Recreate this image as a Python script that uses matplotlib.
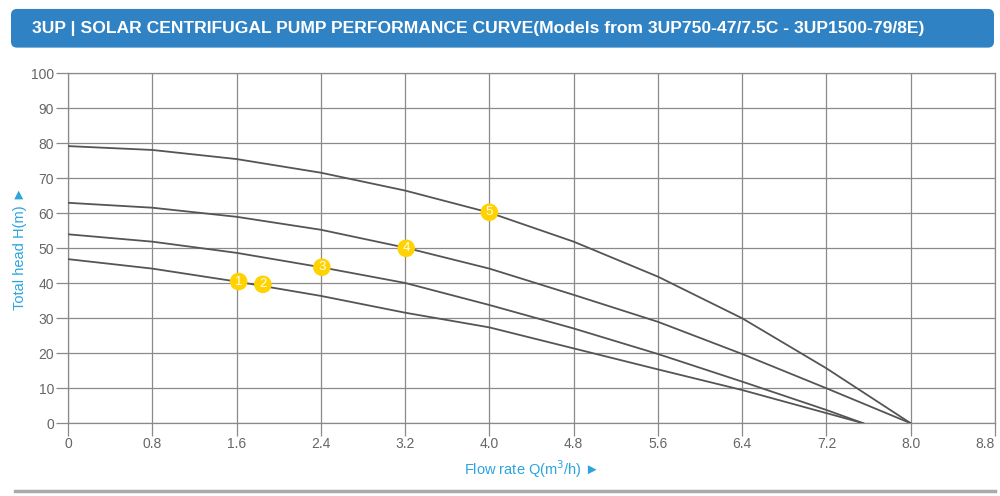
import matplotlib
matplotlib.use("Agg")
import matplotlib.pyplot as plt
from matplotlib.patches import FancyBboxPatch

# Courbes (débit Q en m3/h, hauteur H en m)
q_a = [0, 0.8, 1.6, 2.4, 3.2, 4.0, 4.8, 5.6, 6.4, 7.2, 7.55]
h_a = [46.9, 44.2, 40.5, 36.4, 31.6, 27.4, 21.4, 15.4, 9.5, 2.9, 0]

q_b = [0, 0.8, 1.6, 2.4, 3.2, 4.0, 4.8, 5.6, 6.4, 7.2, 7.55]
h_b = [54.0, 51.9, 48.7, 44.6, 40.1, 33.8, 27.1, 19.8, 11.9, 3.8, 0]

q_c = [0, 0.8, 1.6, 2.4, 3.2, 4.0, 4.8, 5.6, 6.4, 7.2, 8.0]
h_c = [63.0, 61.6, 59.0, 55.3, 50.2, 44.2, 36.7, 29.0, 19.8, 10.0, 0]

q_d = [0, 0.8, 1.6, 2.4, 3.2, 4.0, 4.8, 5.6, 6.4, 7.2, 8.0]
h_d = [79.2, 78.1, 75.5, 71.6, 66.5, 60.2, 51.9, 41.9, 30.0, 15.7, 0]

# Points de fonctionnement des modèles
point_labels = ["1", "2", "3", "4", "5"]
point_q = [1.62, 1.85, 2.41, 3.21, 4.0]
point_h = [40.5, 39.7, 44.6, 50.0, 60.3]

x_ticks = [0, 0.8, 1.6, 2.4, 3.2, 4.0, 4.8, 5.6, 6.4, 7.2, 8.0, 8.8]
x_tick_labels = ["0", "0.8", "1.6", "2.4", "3.2", "4.0", "4.8", "5.6", "6.4", "7.2", "8.0", "8.8"]
y_ticks = list(range(0, 101, 10))

titre = "3UP | SOLAR CENTRIFUGAL PUMP PERFORMANCE CURVE(Models from 3UP750-47/7.5C - 3UP1500-79/8E)"

plt.rcParams["font.family"] = ["Liberation Sans", "DejaVu Sans"]

fig = plt.figure(figsize=(10, 4.96), dpi=100)

# bandeau du titre
bandeau = FancyBboxPatch((0.011, 0.904), 0.983, 0.078,
                         boxstyle="round,pad=0,rounding_size=0.006",
                         transform=fig.transFigure, facecolor="#2F82C3",
                         edgecolor="none", mutation_aspect=2.0)
fig.patches.append(bandeau)
t = fig.text(0.032, 0.943, titre, color="white", fontsize=13, fontweight="bold",
             ha="left", va="center")
# ajuste la taille pour que le titre occupe la même largeur (~893 px)
rend = fig.canvas.get_renderer()
largeur = t.get_window_extent(rend).width
t.set_fontsize(13 * 893 / largeur)

# trait gris en bas
fig.add_artist(plt.Line2D([0.015, 0.995], [0.010, 0.010], transform=fig.transFigure,
                          color="#AAAAAA", linewidth=2.5))

ax = fig.add_axes([0.068, 0.1466, 0.927, 0.7056])
gris = "#8A8A8A"

for q, h in [(q_a, h_a), (q_b, h_b), (q_c, h_c), (q_d, h_d)]:
    ax.plot(q, h, color="#555555", linewidth=1.3, zorder=3)

ax.scatter(point_q, point_h, s=160, color="#FFD200", edgecolors="none", zorder=4)
for lbl, q, h in zip(point_labels, point_q, point_h):
    ax.text(q, h, lbl, color="white", fontsize=9.5, ha="center", va="center", zorder=5)

ax.set_xlim(0, 8.8)
ax.set_ylim(0, 100)
ax.set_xticks(x_ticks)
ax.set_xticklabels(x_tick_labels)
ax.get_xticklabels()[-1].set_horizontalalignment("right")
ax.set_yticks(y_ticks)
ax.grid(True, color=gris, linewidth=0.9)
ax.set_axisbelow(True)
for s in ax.spines.values():
    s.set_color(gris)
    s.set_linewidth(0.9)
ax.tick_params(axis="both", length=9, width=0.9, color=gris, labelcolor="#666666",
               labelsize=10, pad=1)

bleu = "#2AA5DE"
ax.set_xlabel("Flow rate Q(m$^3$/h) \u25BA", color=bleu, fontsize=10.5, labelpad=5)
ax.set_ylabel("Total head H(m) \u25BA", color=bleu, fontsize=10.5, labelpad=3)

fig.savefig("out.png", dpi=100)
